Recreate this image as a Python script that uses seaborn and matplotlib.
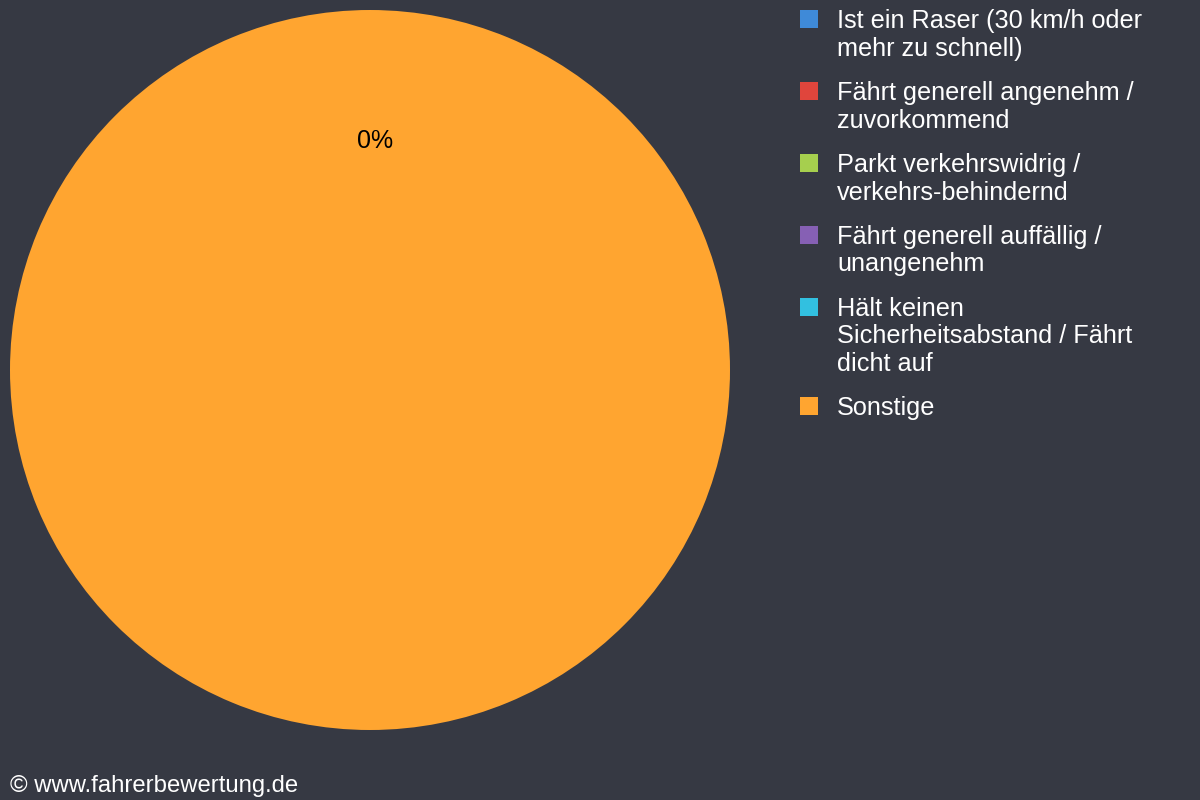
import matplotlib
matplotlib.use('Agg')
import matplotlib.pyplot as plt
import seaborn as sns
from matplotlib.patches import Rectangle

labels = [
    'Ist ein Raser (30 km/h oder\nmehr zu schnell)',
    'Fährt generell angenehm /\nzuvorkommend',
    'Parkt verkehrswidrig /\nverkehrs-behindernd',
    'Fährt generell auffällig /\nunangenehm',
    'Hält keinen\nSicherheitsabstand / Fährt\ndicht auf',
    'Sonstige',
]
values = [0, 0, 0, 0, 0, 100]
colors = ['#3f8ad8', '#e0453c', '#a6cf4e', '#8660b4', '#32c0e0', '#ffa530']

bg = '#363943'
sns.set_theme(style='white')
plt.rcParams['font.family'] = ['Liberation Sans', 'DejaVu Sans']

fig = plt.figure(figsize=(12, 8), dpi=100, facecolor=bg)
W, H = 1200, 800

# pie area: 720px circle, center at (370, 370) from top-left
ax = fig.add_axes([10 / W, 1 - 730 / H, 720 / W, 720 / H])
ax.set_facecolor(bg)

shown = []


def pct_label(p):
    # the zero slices all sit at the top; label them only once
    if p < 0.5 and not shown:
        shown.append(p)
        return '0%'
    return ''


wedges, texts, autotexts = ax.pie(
    values, colors=colors, startangle=90, counterclock=False,
    autopct=pct_label, pctdistance=0.635, radius=1,
    wedgeprops=dict(linewidth=0),
    textprops=dict(color='black', fontsize=18),
)
# small nudge to the right, as in the original
for t in autotexts:
    x0, y0 = t.get_position()
    t.set_position((x0 + 5 / 360, y0))

ax.set_xlim(-1, 1)
ax.set_ylim(-1, 1)
ax.set_aspect('equal')
ax.axis('off')

# legend drawn on the right, entries top-aligned like the original
y = 19
for lab, col in zip(labels, colors):
    fig.patches.append(Rectangle((800 / W, 1 - (y + 9) / H), 18 / W, 18 / H,
                                 transform=fig.transFigure, facecolor=col,
                                 edgecolor='none'))
    lines = lab.split('\n')
    for i, line in enumerate(lines):
        fig.text(837 / W, 1 - (y + 9 + i * 27.7) / H, line, color='white',
                 fontsize=18.2, ha='left', va='baseline')
    y += len(lines) * 27.7 + 16.5

fig.text(10 / W, 1 - 792 / H, '© www.fahrerbewertung.de', color='white',
         fontsize=17.2, ha='left', va='baseline')

fig.savefig('out.png', dpi=100, facecolor=bg)
